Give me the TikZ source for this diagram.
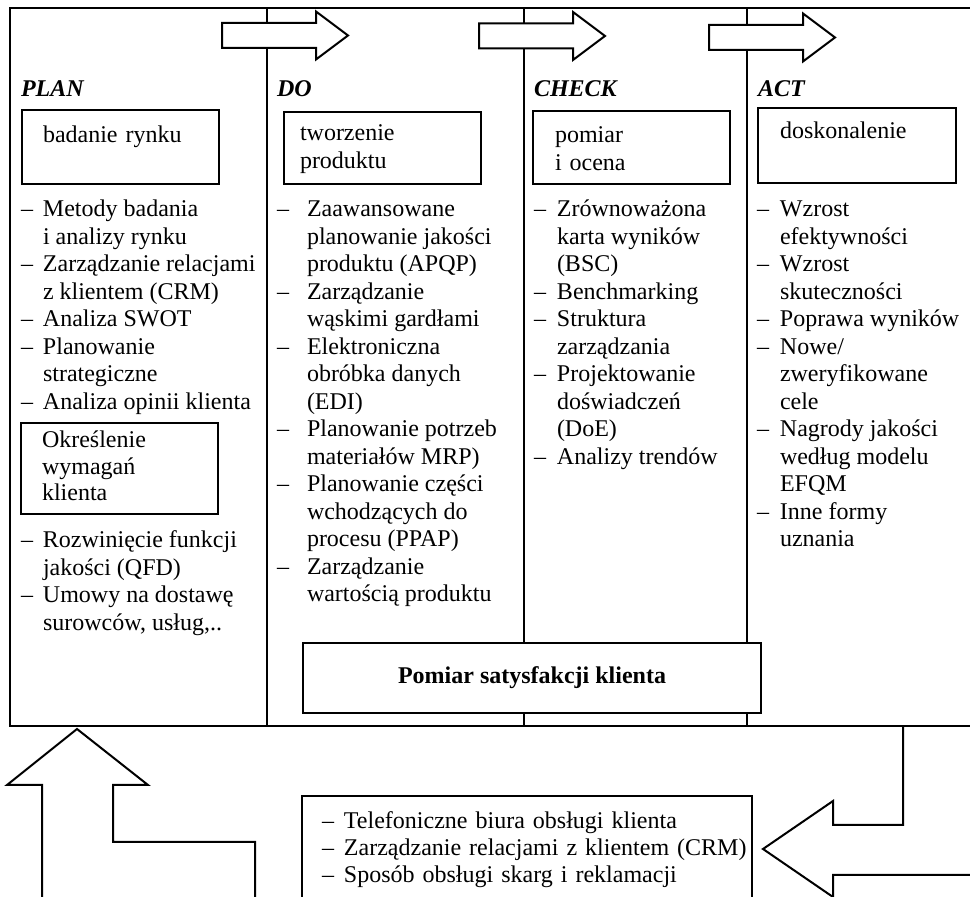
\documentclass[tikz,border=0pt]{standalone}
\usepackage{fontspec}
\setmainfont{Liberation Serif}

\begin{document}
\begin{tikzpicture}[x=0.5pt,y=-0.5pt,line width=1pt,
  font=\fontsize{12}{13.75}\selectfont,
  etap/.style={draw, anchor=north west, align=left, inner ysep=0pt},
  lista/.style={anchor=base west, inner sep=0pt},
  tytul/.style={anchor=base west, inner sep=0pt, font=\fontsize{12}{13.75}\selectfont\bfseries\itshape},
  strzalka/.style={draw, fill=white, line join=miter}]
  \useasboundingbox (0,0) rectangle (970,897);
  \clip (0,0) rectangle (970,897);

  \draw (10,8) rectangle (1000,726);
  \foreach \x in {267,524,747}
    \draw (\x,8) -- (\x,726);

  % strzalki miedzy etapami
  \foreach \x/\y in {222/35.5,479/36,709/37.5}
    \draw[strzalka] (\x,\y-12.5) -- ++(94,0) -- ++(0,-11.5) -- ++(32,24) -- ++(-32,24) -- ++(0,-11.5) -- ++(-94,0) -- cycle;

  \node[tytul] (plan) at (20,97) {PLAN};
  \node[tytul] (etapdo) at (276,97) {DO};
  \node[tytul] (check) at (533,97) {CHECK};
  \node[tytul] (act) at (757,97) {ACT};

  \node[etap, text width=77.5pt, inner xsep=10.5pt, text height=16.5pt, text depth=20.5pt] (badanie) at (21,109) {badanie rynku};
  \node[etap, text width=82.5pt, inner xsep=8pt, text height=14.5pt, text depth=21.5pt] (tworzenie) at (283,111) {tworzenie\\produktu};
  \node[etap, text width=76.5pt, inner xsep=11pt, text height=16pt, text depth=20.5pt] (ocena) at (532,110) {pomiar\\i ocena};
  \node[etap, text width=77pt, inner xsep=11pt, text height=15.5pt, text depth=22pt] (doskonalenie) at (757,107) {doskonalenie};
  \node[etap, text width=77.5pt, inner xsep=10.5pt, text height=12.5pt, text depth=33pt,
    font=\fontsize{12}{13.25}\selectfont] (wymagania) at (20,422) {Określenie\\wymagań\\klienta};

  \node[lista] (planlista) at (20,217) {\begin{tabular}[t]{@{}l@{\hspace{5pt}}l@{}}
    -- & Metody badania\\
       & i analizy rynku\\
    -- & Zarządzanie relacjami\\
       & z klientem (CRM)\\
    -- & Analiza SWOT\\
    -- & Planowanie\\
       & strategiczne\\
    -- & Analiza opinii klienta
  \end{tabular}};
  \node[lista] (planlista2) at (20,548) {\begin{tabular}[t]{@{}l@{\hspace{5pt}}l@{}}
    -- & Rozwinięcie funkcji\\
       & jakości (QFD)\\
    -- & Umowy na dostawę\\
       & surowców, usług,..
  \end{tabular}};
  \node[lista] (dolista) at (276,217) {\begin{tabular}[t]{@{}l@{\hspace{9pt}}l@{}}
    -- & Zaawansowane\\
       & planowanie jakości\\
       & produktu (APQP)\\
    -- & Zarządzanie\\
       & wąskimi gardłami\\
    -- & Elektroniczna\\
       & obróbka danych\\
       & (EDI)\\
    -- & Planowanie potrzeb\\
       & materiałów MRP)\\
    -- & Planowanie części\\
       & wchodzących do\\
       & procesu (PPAP)\\
    -- & Zarządzanie\\
       & wartością produktu
  \end{tabular}};
  \node[lista] (checklista) at (533,217) {\begin{tabular}[t]{@{}l@{\hspace{5.5pt}}l@{}}
    -- & Zrównoważona\\
       & karta wyników\\
       & (BSC)\\
    -- & Benchmarking\\
    -- & Struktura\\
       & zarządzania\\
    -- & Projektowanie\\
       & doświadczeń\\
       & (DoE)\\
    -- & Analizy trendów
  \end{tabular}};
  \node[lista] (actlista) at (756,217) {\begin{tabular}[t]{@{}l@{\hspace{5.5pt}}l@{}}
    -- & Wzrost\\
       & efektywności\\
    -- & Wzrost\\
       & skuteczności\\
    -- & Poprawa wyników\\
    -- & Nowe/\\
       & zweryfikowane\\
       & cele\\
    -- & Nagrody jakości\\
       & według modelu\\
       & EFQM\\
    -- & Inne formy\\
       & uznania
  \end{tabular}};

  \node[draw, fill=white, minimum width=229pt, minimum height=35pt,
    font=\fontsize{12}{13.75}\selectfont\bfseries] (satysfakcja) at (532,678) {Pomiar satysfakcji klienta};

  \node[etap, text width=205pt, inner xsep=10pt, text height=16pt, text depth=50pt] (obsluga) at (301,795) {\begin{tabular}[t]{@{}l@{\hspace{5pt}}l@{}}
    -- & Telefoniczne biura obsługi klienta\\
    -- & Zarządzanie relacjami z klientem (CRM)\\
    -- & Sposób obsługi skarg i reklamacji
  \end{tabular}};

  % strzalki sprzezenia zwrotnego
  \draw[line join=miter] (42,910) -- (42,785) -- (7,785) -- (77,729) -- (148,785) -- (113,785) -- (113,842) -- (255,842) -- (255,910);
  \draw[line join=miter] (903,726) -- (903,825) -- (833,825) -- (833,801) -- (763,849) -- (833,897) -- (833,875) -- (980,875);
\end{tikzpicture}
\end{document}
